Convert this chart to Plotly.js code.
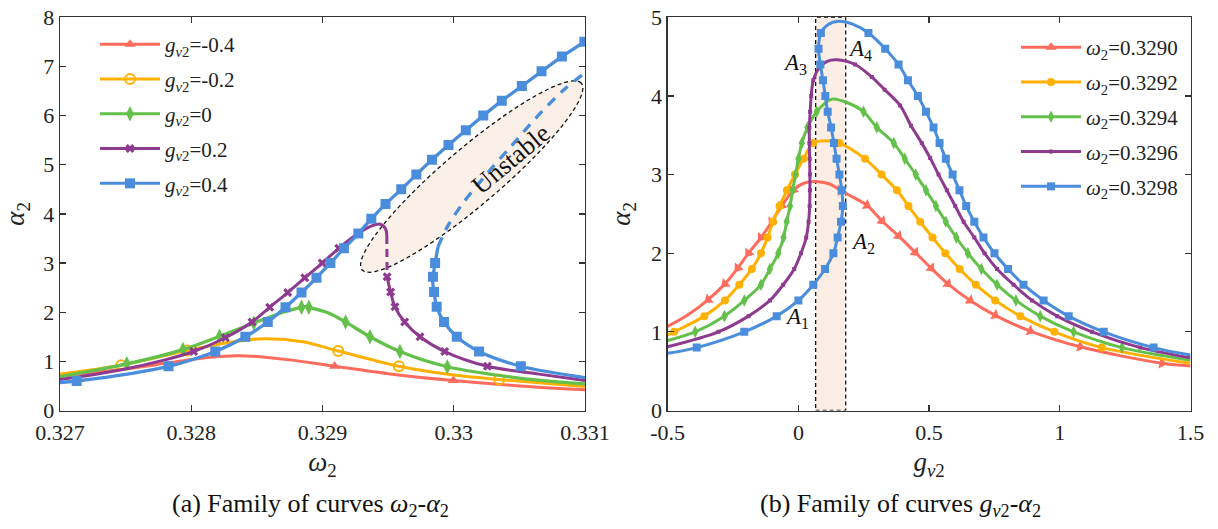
<!DOCTYPE html>
<html><head><meta charset="utf-8">
<script src="https://cdn.plot.ly/plotly-3.0.1.min.js"></script>
<style>html,body{margin:0;padding:0;background:#fff}</style>
</head><body>
<div id="chart" style="width:1218px;height:529px"></div>
<script>
// ---------- Panel (a): omega2 - alpha2 ----------
const legendA = ['<i>g</i><sub><i>v</i>2</sub>=-0.4','<i>g</i><sub><i>v</i>2</sub>=-0.2','<i>g</i><sub><i>v</i>2</sub>=0','<i>g</i><sub><i>v</i>2</sub>=0.2','<i>g</i><sub><i>v</i>2</sub>=0.4'];
const xTickValsA = [0.327,0.328,0.329,0.330,0.331];
const xTickTextA = ['0.327','0.328','0.329','0.33','0.331'];
const yTickValsA = [0,1,2,3,4,5,6,7,8];

const aRedW = [0.32700,0.32745,0.32785,0.32812,0.32830,0.32850,0.32875,0.329092,0.32950,0.329997,0.33050,0.33100];
const aRedA = [0.71,0.83,0.98,1.08,1.11,1.10,1.03,0.90,0.75,0.61,0.50,0.42];
const aRedM = [0,0,0,0,0,0,0,1,0,1,0,0];

const aOraW = [0.32700,0.327466,0.327967,0.32825,0.32855,0.32885,0.32912,0.329582,0.33000,0.330346,0.33100];
const aOraA = [0.74,0.92,1.22,1.37,1.46,1.40,1.21,0.90,0.72,0.63,0.49];
const aOraM = [0,1,1,0,0,0,1,1,0,1,0];

const aGrnW = [0.32700,0.327509,0.327937,0.328216,0.328476,0.32870,0.32884,0.32887,0.328896,0.32905,0.329176,0.329362,0.32959,0.329951,0.33050,0.33100];
const aGrnA = [0.69,0.95,1.24,1.51,1.78,2.00,2.10,2.12,2.10,1.98,1.80,1.50,1.20,0.89,0.66,0.54];
const aGrnM = [0,1,1,1,1,0,1,0,1,0,1,1,1,1,0,0];

const aPurW = [0.32700,0.32745,0.32780,0.328018,0.32826,0.328463,0.328598,0.328735,0.328865,0.328998,0.329124,0.32926,0.32937,0.32944,0.32948,0.32949];
const aPurA = [0.63,0.82,1.03,1.20,1.48,1.80,2.10,2.40,2.70,3.00,3.30,3.58,3.75,3.79,3.70,3.55];
const aPurM = [0,0,0,1,1,1,1,1,1,1,1,0,0,0,0,0];
const aPurDashW = [0.32949,0.329492];
const aPurDashA = [3.55,2.72];
const aPurLowW = [0.329492,0.329519,0.329552,0.329626,0.329743,0.329931,0.330257,0.33065,0.33100];
const aPurLowA = [2.72,2.41,2.11,1.80,1.50,1.20,0.90,0.74,0.61];
const aPurLowM = [1,1,1,1,1,1,1,0,0];

const aBluW = [0.32700,0.327127,0.327827,0.328183,0.328412,0.328583,0.328718,0.32884,0.328954,0.32906,0.329163,0.329273,0.329372,0.32948,0.3296,0.329715,0.329834,0.32996,0.330092,0.330225,0.330366,0.330519,0.330669,0.330824,0.330995];
const aBluA = [0.57,0.60,0.90,1.20,1.50,1.80,2.10,2.40,2.70,3.00,3.30,3.60,3.90,4.20,4.50,4.80,5.10,5.40,5.70,6.00,6.30,6.60,6.90,7.20,7.50];
const aBluM = [0,1,1,1,1,1,1,1,1,1,1,1,1,1,1,1,1,1,1,1,1,1,1,1,1];
const aBluDashW = [0.32988,0.329951,0.330079,0.330257,0.330435,0.330639,0.330842,0.33100];
const aBluDashA = [3.33,3.74,4.25,4.83,5.37,5.99,6.53,6.87];
const aBluLowW = [0.33100,0.330511,0.330193,0.330023,0.329926,0.32987,0.32985,0.32984,0.329842,0.329858,0.32988];
const aBluLowA = [0.67,0.90,1.20,1.50,1.80,2.11,2.41,2.60,2.72,3.00,3.33];
const aBluLowM = [0,1,1,1,1,1,1,0,1,1,0];

// ---------- Panel (b): gv2 - alpha2 ----------
const legendB = ['<i>ω</i><sub>2</sub>=0.3290','<i>ω</i><sub>2</sub>=0.3292','<i>ω</i><sub>2</sub>=0.3294','<i>ω</i><sub>2</sub>=0.3296','<i>ω</i><sub>2</sub>=0.3298'];
const xTickValsB = [-0.5,0,0.5,1,1.5];
const xTickTextB = ['-0.5','0','0.5','1','1.5'];
const yTickValsB = [0,1,2,3,4,5];

const bRedG = [-0.5,-0.425,-0.345,-0.281,-0.232,-0.191,-0.143,-0.102,-0.064,-0.02,0.02,0.075,0.12,0.16,0.21,0.262,0.32,0.383,0.447,0.508,0.572,0.657,0.753,0.887,1.078,1.391,1.5];
const bRedA = [1.07,1.21,1.41,1.61,1.81,2.00,2.20,2.40,2.60,2.80,2.89,2.91,2.88,2.80,2.71,2.61,2.41,2.22,2.01,1.81,1.61,1.40,1.21,1.01,0.81,0.60,0.566];
const bRedM = [0,1,1,1,1,1,1,1,1,1,0,0,0,1,0,1,1,1,1,1,1,1,1,1,1,1,0];

const bOraG = [-0.5,-0.475,-0.36,-0.281,-0.226,-0.178,-0.143,-0.118,-0.097,-0.072,-0.044,-0.013,0.019,0.057,0.11,0.157,0.255,0.318,0.377,0.421,0.466,0.513,0.562,0.617,0.679,0.753,0.849,0.979,1.161,1.5];
const bOraA = [0.96,1.00,1.20,1.40,1.60,1.80,2.00,2.20,2.40,2.60,2.80,3.00,3.20,3.40,3.43,3.40,3.20,3.00,2.80,2.60,2.40,2.20,2.00,1.80,1.60,1.40,1.20,1.00,0.80,0.60];
const bOraM = [0,1,1,1,1,1,1,1,1,1,1,1,1,1,0,1,1,1,1,1,1,1,1,1,1,1,1,1,1,0];

const bGrnG = [-0.5,-0.395,-0.283,-0.207,-0.143,-0.109,-0.077,-0.057,-0.045,-0.032,-0.022,-0.011,0.0,0.013,0.035,0.070,0.128,0.19,0.249,0.30,0.365,0.407,0.449,0.488,0.526,0.564,0.604,0.648,0.70,0.76,0.832,0.925,1.053,1.238,1.5];
const bGrnA = [0.89,1.00,1.20,1.40,1.60,1.80,2.00,2.20,2.40,2.60,2.80,3.00,3.20,3.40,3.60,3.80,3.96,3.91,3.80,3.60,3.40,3.20,3.00,2.80,2.60,2.40,2.20,2.00,1.80,1.60,1.40,1.20,1.00,0.80,0.64];
const bGrnM = [0,1,1,1,1,1,1,1,1,1,1,1,1,1,1,1,0,0,1,1,1,1,1,1,1,1,1,1,1,1,1,1,1,1,0];

const bPurG = [-0.5,-0.306,-0.191,-0.109,-0.058,-0.016,0.01,0.03,0.039,0.043,0.044,0.044,0.043,0.042,0.042,0.045,0.049,0.057,0.08,0.11,0.147,0.217,0.281,0.33,0.389,0.431,0.472,0.504,0.536,0.568,0.60,0.632,0.673,0.712,0.76,0.823,0.894,0.99,1.123,1.308,1.5];
const bPurA = [0.81,1.00,1.20,1.40,1.60,1.80,2.00,2.20,2.40,2.60,2.80,3.00,3.20,3.40,3.60,3.80,4.00,4.20,4.36,4.44,4.46,4.40,4.24,4.08,3.88,3.62,3.40,3.21,3.00,2.80,2.60,2.40,2.20,2.00,1.80,1.60,1.40,1.20,1.00,0.80,0.67];
const bPurM = [0,1,1,1,1,1,1,1,1,1,1,1,1,1,1,1,1,1,0,0,0,1,1,1,1,1,1,1,1,1,1,1,1,1,1,1,1,1,1,1,0];

const bBluG = [-0.5,-0.389,-0.207,-0.083,0.0,0.057,0.102,0.134,0.150,0.163,0.170,0.166,0.157,0.146,0.136,0.125,0.112,0.103,0.094,0.084,0.077,0.086,0.11,0.153,0.21,0.268,0.332,0.383,0.419,0.457,0.488,0.517,0.540,0.564,0.590,0.616,0.642,0.673,0.708,0.750,0.802,0.861,0.938,1.034,1.168,1.359,1.5];
const bBluA = [0.727,0.80,1.00,1.20,1.40,1.60,1.80,2.00,2.20,2.40,2.60,2.80,3.00,3.20,3.40,3.60,3.80,4.00,4.20,4.40,4.60,4.80,4.90,4.95,4.91,4.80,4.60,4.40,4.20,4.00,3.80,3.60,3.40,3.20,3.00,2.80,2.60,2.40,2.20,2.00,1.80,1.60,1.40,1.20,1.00,0.80,0.705];
const bBluM = [0,1,1,1,1,1,1,1,1,1,1,1,1,1,1,1,1,1,1,1,1,1,0,0,0,1,1,1,1,1,1,1,1,1,1,1,1,1,1,1,1,1,1,1,1,1,0];

// ---------- styles ----------
const cRed = '#FF6B5C', cOra = '#FFB000', cGrn = '#63C04B', cPur = '#8E3A8E', cBlu = '#4A8DDC';
const serif = 'Liberation Serif';

const traces = [];
function pick(arr, m){ return arr.filter((v,i)=>m[i]); }
function lineTrace(x, y, color, w, xa, ya, dash){
  traces.push({x:x, y:y, xaxis:xa, yaxis:ya, mode:'lines', type:'scatter', showlegend:false,
    line:{color:color, width:w, shape:'spline', smoothing:0.9, dash:dash||'solid'}, hoverinfo:'skip'});
}
function markerTrace(x, y, m, color, marker, xa, ya){
  traces.push({x:pick(x,m), y:pick(y,m), xaxis:xa, yaxis:ya, mode:'markers', type:'scatter', showlegend:false,
    marker:Object.assign({color:color}, marker), hoverinfo:'skip'});
}
function legendTrace(name, color, w, marker, xa, ya, lg){
  traces.push({x:[null], y:[null], xaxis:xa, yaxis:ya, mode:'lines+markers', type:'scatter', name:name,
    legend:lg, legendgroup:name, line:{color:color, width:w}, marker:Object.assign({color:color}, marker)});
}

// panel a
const mkRedA = {symbol:'triangle-up', size:10};
const mkOraA = {symbol:'circle-open', size:10, line:{width:2, color:cOra}};
const mkGrnA = {symbol:'diamond-tall', size:11};
const mkPurA = {symbol:'x', size:8};
const mkBluA = {symbol:'square', size:10};

lineTrace(aRedW, aRedA, cRed, 3, 'x', 'y');
markerTrace(aRedW, aRedA, aRedM, cRed, mkRedA, 'x', 'y');
lineTrace(aOraW, aOraA, cOra, 3, 'x', 'y');
markerTrace(aOraW, aOraA, aOraM, cOra, mkOraA, 'x', 'y');
lineTrace(aGrnW, aGrnA, cGrn, 3.3, 'x', 'y');
markerTrace(aGrnW, aGrnA, aGrnM, cGrn, mkGrnA, 'x', 'y');
lineTrace(aPurW, aPurA, cPur, 3, 'x', 'y');
markerTrace(aPurW, aPurA, aPurM, cPur, mkPurA, 'x', 'y');
lineTrace(aPurDashW, aPurDashA, cPur, 3, 'x', 'y', '8px,5px');
lineTrace(aPurLowW, aPurLowA, cPur, 3, 'x', 'y');
markerTrace(aPurLowW, aPurLowA, aPurLowM, cPur, mkPurA, 'x', 'y');
lineTrace(aBluW, aBluA, cBlu, 3.3, 'x', 'y');
markerTrace(aBluW, aBluA, aBluM, cBlu, mkBluA, 'x', 'y');
lineTrace(aBluDashW, aBluDashA, cBlu, 3.3, 'x', 'y', '10px,8px');
lineTrace(aBluLowW, aBluLowA, cBlu, 3.3, 'x', 'y');
markerTrace(aBluLowW, aBluLowA, aBluLowM, cBlu, mkBluA, 'x', 'y');

legendTrace(legendA[0], cRed, 3, mkRedA, 'x', 'y', 'legend');
legendTrace(legendA[1], cOra, 3, mkOraA, 'x', 'y', 'legend');
legendTrace(legendA[2], cGrn, 3, mkGrnA, 'x', 'y', 'legend');
legendTrace(legendA[3], cPur, 3, mkPurA, 'x', 'y', 'legend');
legendTrace(legendA[4], cBlu, 3, mkBluA, 'x', 'y', 'legend');

// panel b
const redSyms = bRedG.filter((v,i)=>bRedM[i]).map(g => g < 0.075 ? 'triangle-down' : 'triangle-up');
const mkRedB = {symbol:redSyms, size:10, angleref:'previous'};
const mkOraB = {symbol:'circle', size:8};
const mkGrnB = {symbol:'diamond-tall', size:9};
const mkPurB = {symbol:'square', size:4};
const mkBluB = {symbol:'square', size:8};

lineTrace(bRedG, bRedA, cRed, 3, 'x2', 'y2');
markerTrace(bRedG, bRedA, bRedM, cRed, mkRedB, 'x2', 'y2');
lineTrace(bOraG, bOraA, cOra, 3, 'x2', 'y2');
markerTrace(bOraG, bOraA, bOraM, cOra, mkOraB, 'x2', 'y2');
lineTrace(bGrnG, bGrnA, cGrn, 3, 'x2', 'y2');
markerTrace(bGrnG, bGrnA, bGrnM, cGrn, mkGrnB, 'x2', 'y2');
lineTrace(bPurG, bPurA, cPur, 3, 'x2', 'y2');
markerTrace(bPurG, bPurA, bPurM, cPur, mkPurB, 'x2', 'y2');
lineTrace(bBluG, bBluA, cBlu, 3, 'x2', 'y2');
markerTrace(bBluG, bBluA, bBluM, cBlu, mkBluB, 'x2', 'y2');

legendTrace(legendB[0], cRed, 3, {symbol:'triangle-up', size:10}, 'x2', 'y2', 'legend2');
legendTrace(legendB[1], cOra, 3, mkOraB, 'x2', 'y2', 'legend2');
legendTrace(legendB[2], cGrn, 3, mkGrnB, 'x2', 'y2', 'legend2');
legendTrace(legendB[3], cPur, 3, mkPurB, 'x2', 'y2', 'legend2');
legendTrace(legendB[4], cBlu, 3, mkBluB, 'x2', 'y2', 'legend2');

// ---------- layout ----------
const W = 1218, H = 529;
const domXA = [60/W, 585/W], domXB = [667.7/W, 1190.5/W], domY = [(H-410.5)/H, (H-17.3)/H];

// rotated ellipse (in pixel space) for the "Unstable" region of panel (a)
const ellC = [0.330137, 4.76], ellA = 144, ellB = 28.3, ellAng = 40.4*Math.PI/180;
const pxPerW = (domXA[1]-domXA[0])*W/(0.331-0.327);
const pxPerA = (domY[1]-domY[0])*H/8;
let ellPath = '';
for (let k=0; k<=72; k++){
  const t = 2*Math.PI*k/72;
  const dx = ellA*Math.cos(ellAng)*Math.cos(t) - ellB*Math.sin(ellAng)*Math.sin(t);
  const dy = ellA*Math.sin(ellAng)*Math.cos(t) + ellB*Math.cos(ellAng)*Math.sin(t);
  ellPath += (k===0?'M':'L') + (ellC[0]+dx/pxPerW).toFixed(7) + ',' + (ellC[1]+dy/pxPerA).toFixed(4);
}
ellPath += 'Z';

const axisCommon = {
  showgrid:false, zeroline:false, showline:true, linecolor:'#333', linewidth:1.3,
  mirror:'ticks', ticks:'inside', ticklen:6, tickcolor:'#333', tickwidth:1.2,
  tickfont:{family:serif, size:22, color:'#222'}, fixedrange:true
};
const titleFont = {family:serif, size:27, color:'#222'};
const legendCommon = {
  font:{family:serif, size:21, color:'#222'}, bgcolor:'rgba(255,255,255,0)', borderwidth:0,
  xanchor:'left', yanchor:'top', traceorder:'grouped', tracegroupgap:4.5, itemwidth:60
};

const layout = {
  width:W, height:H, margin:{l:0, r:0, t:0, b:0},
  paper_bgcolor:'#fff', plot_bgcolor:'#fff',
  font:{family:serif},
  xaxis:Object.assign({}, axisCommon, {domain:domXA, range:[0.327,0.331], tickvals:xTickValsA, ticktext:xTickTextA,
    ticklabelstandoff:2, title:{text:'<i>ω</i><sub>2</sub>', font:titleFont, standoff:8}, anchor:'y'}),
  yaxis:Object.assign({}, axisCommon, {domain:domY, range:[0,8], tickvals:yTickValsA,
    title:{text:'<i>α</i><sub>2</sub>', font:titleFont, standoff:12}, anchor:'x'}),
  xaxis2:Object.assign({}, axisCommon, {domain:domXB, range:[-0.5,1.5], tickvals:xTickValsB, ticktext:xTickTextB,
    ticklabelstandoff:2, title:{text:'<i>g</i><sub><i>v</i>2</sub>', font:titleFont, standoff:8}, anchor:'y2'}),
  yaxis2:Object.assign({}, axisCommon, {domain:domY, range:[0,5], tickvals:yTickValsB,
    title:{text:'<i>α</i><sub>2</sub>', font:titleFont, standoff:12}, anchor:'x2'}),
  legend:Object.assign({}, legendCommon, {x:95/W, y:1-24/H}),
  legend2:Object.assign({}, legendCommon, {x:1016/W, y:1-27/H}),
  shapes:[
    {type:'path', xref:'x', yref:'y', path:ellPath, fillcolor:'#FBF0E7', layer:'below',
     line:{color:'#111', width:1.3, dash:'4px,3px'}},
    {type:'rect', xref:'x2', yref:'y2', x0:0.066, x1:0.181, y0:0, y1:5, fillcolor:'#FCEEE4', layer:'below',
     line:{color:'#111', width:1.3, dash:'4px,3px'}}
  ],
  annotations:[
    {xref:'x', yref:'y', x:0.330435, y:5.10, text:'Unstable', textangle:-40, showarrow:false,
     font:{family:serif, size:26, color:'#111'}},
    {xref:'x2', yref:'y2', x:-0.004, y:1.17, text:'<i>A</i><sub>1</sub>', showarrow:false, font:{family:serif, size:23, color:'#111'}},
    {xref:'x2', yref:'y2', x:0.249, y:2.13, text:'<i>A</i><sub>2</sub>', showarrow:false, font:{family:serif, size:23, color:'#111'}},
    {xref:'x2', yref:'y2', x:-0.013, y:4.41, text:'<i>A</i><sub>3</sub>', showarrow:false, font:{family:serif, size:23, color:'#111'}},
    {xref:'x2', yref:'y2', x:0.236, y:4.58, text:'<i>A</i><sub>4</sub>', showarrow:false, font:{family:serif, size:23, color:'#111'}},
    {xref:'paper', yref:'paper', x:310/W, y:1-505/H, xanchor:'center', yanchor:'middle',
     text:'(a) Family of curves <i>ω</i><sub>2</sub>-<i>α</i><sub>2</sub>',
     showarrow:false, font:{family:serif, size:26, color:'#111'}},
    {xref:'paper', yref:'paper', x:900/W, y:1-505/H, xanchor:'center', yanchor:'middle',
     text:'(b) Family of curves <i>g</i><sub><i>v</i>2</sub>-<i>α</i><sub>2</sub>',
     showarrow:false, font:{family:serif, size:26, color:'#111'}}
  ]
};

Plotly.newPlot('chart', traces, layout, {staticPlot:true, displayModeBar:false});
</script>
</body></html>
